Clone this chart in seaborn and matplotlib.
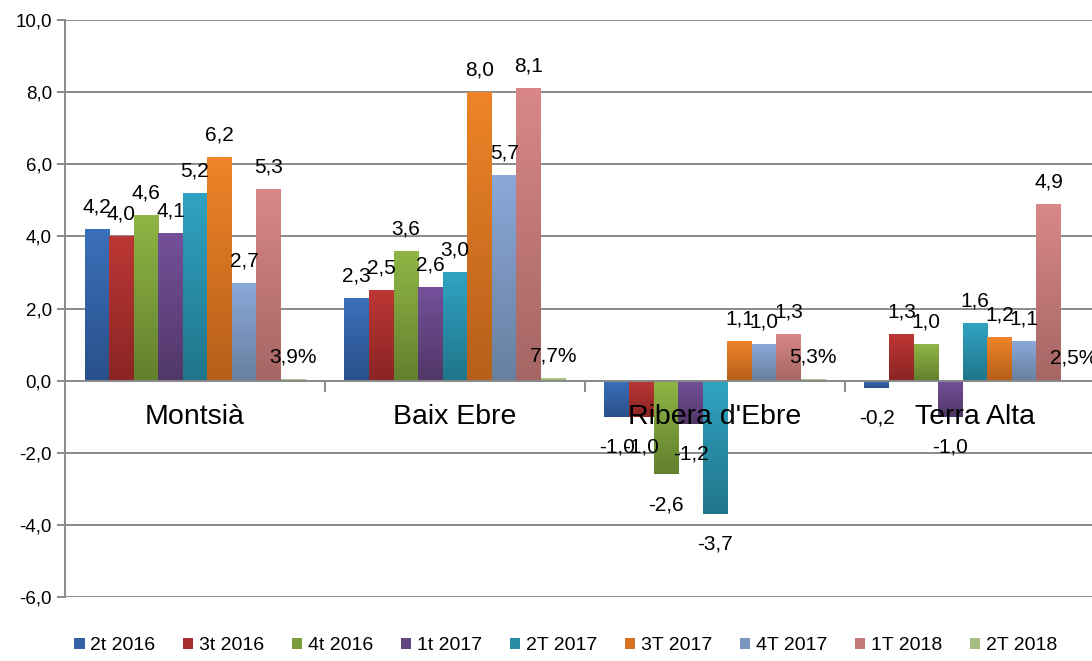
import numpy as np
import pandas as pd
import seaborn as sns
import matplotlib.pyplot as plt
from matplotlib.colors import LinearSegmentedColormap
from matplotlib.patches import Patch
from matplotlib.ticker import FuncFormatter

# data
comarques = ['Montsià', 'Baix Ebre', "Ribera d'Ebre", 'Terra Alta']
periodes = ['2t 2016', '3t 2016', '4t 2016', '1t 2017', '2T 2017',
            '3T 2017', '4T 2017', '1T 2018', '2T 2018']

v_2t2016 = [4.2, 2.3, -1.0, -0.2]
v_3t2016 = [4.0, 2.5, -1.0, 1.3]
v_4t2016 = [4.6, 3.6, -2.6, 1.0]
v_1t2017 = [4.1, 2.6, -1.2, -1.0]
v_2t2017 = [5.2, 3.0, -3.7, 1.6]
v_3t2017 = [6.2, 8.0, 1.1, 1.2]
v_4t2017 = [2.7, 5.7, 1.0, 1.1]
v_1t2018 = [5.3, 8.1, 1.3, 4.9]
v_2t2018 = [0.039, 0.077, 0.053, 0.025]  # shown as percentages

series = [v_2t2016, v_3t2016, v_4t2016, v_1t2017, v_2t2017,
          v_3t2017, v_4t2017, v_1t2018, v_2t2018]

df = pd.DataFrame([
    {'comarca': c, 'periode': p, 'valor': v}
    for p, vals in zip(periodes, series)
    for c, v in zip(comarques, vals)
])

# excel 2007 style gradient colours (top, bottom)
top_cols = ['#3B70BA', '#BC3735', '#8FB645', '#74509A', '#30A3C2',
            '#EF8428', '#8AA8DA', '#D98787', '#B7D290']
bot_cols = ['#29508A', '#8A2524', '#63802E', '#513767', '#20758A',
            '#B55F1A', '#67809F', '#A46664', '#8CA26B']
mid_cols = ['#3361A4', '#A82F2D', '#7A9C3B', '#634581', '#298DA8',
            '#D97322', '#7C96C2', '#C47877', '#A5BD80']

sns.set_style('white')
plt.rcParams['font.family'] = ['Liberation Sans', 'DejaVu Sans']
plt.rcParams['text.color'] = 'black'
plt.rcParams['xtick.labelcolor'] = 'black'
plt.rcParams['ytick.labelcolor'] = 'black'

W, H = 1092, 661
fig = plt.figure(figsize=(W / 100, H / 100), dpi=100)
ax = fig.add_axes([65 / W, 1 - 597 / H, 1027 / W, 577 / H])

sns.barplot(data=df, x='comarca', y='valor', hue='periode',
            order=comarques, hue_order=periodes, palette=mid_cols,
            saturation=1, width=0.85, legend=False, ax=ax,
            edgecolor='none', linewidth=0, errorbar=None)

grad = np.linspace(0, 1, 128).reshape(-1, 1)
for k, cont in enumerate(ax.containers):
    cmap = LinearSegmentedColormap.from_list(f'g{k}', [bot_cols[k], top_cols[k]])
    for j, bar in enumerate(cont):
        x0, w = bar.get_x(), bar.get_width()
        y0, h = bar.get_y(), bar.get_height()
        lo, hi = min(y0, y0 + h), max(y0, y0 + h)
        ax.imshow(grad, extent=[x0, x0 + w, lo, hi], origin='lower',
                  cmap=cmap, aspect='auto', zorder=3, interpolation='bilinear')
        bar.set_facecolor('none')
        v = series[k][j]
        if k == len(series) - 1:
            txt = f'{v * 100:.1f}%'.replace('.', ',')
        else:
            txt = f'{v:.1f}'.replace('.', ',')
        xc = x0 + w / 2
        if v >= 0:
            ax.annotate(txt, (xc, v), xytext=(0, 12), textcoords='offset points',
                        ha='center', va='baseline', fontsize=15, zorder=7)
        else:
            ax.annotate(txt, (xc, v), xytext=(0, -15), textcoords='offset points',
                        ha='center', va='top', fontsize=15, zorder=7)

ax.set_xlim(-0.5, -0.5 + 1027 / 260)
ax.set_ylim(-6, 10)
ax.set_yticks(range(-6, 11, 2))
ax.yaxis.set_major_formatter(FuncFormatter(lambda y, _: f'{y:.1f}'.replace('.', ',')))
ax.set_axisbelow(True)
ax.yaxis.grid(True, color='#8a8a8a', lw=1.4)
ax.xaxis.grid(False)
ax.xaxis.set_zorder(6)

for s in ['top', 'right']:
    ax.spines[s].set_visible(False)
ax.spines['left'].set_color('#8a8a8a')
ax.spines['left'].set_linewidth(1.4)
ax.spines['bottom'].set_position(('data', 0))
ax.spines['bottom'].set_color('#8a8a8a')
ax.spines['bottom'].set_linewidth(1.4)
ax.spines['bottom'].set_zorder(4)

ax.set_xticks(range(len(comarques)))
ax.set_xticklabels(comarques)
ax.set_xticks([0.5, 1.5, 2.5], minor=True)
ax.tick_params(axis='x', which='major', length=0, pad=17, labelsize=20.5)
ax.tick_params(axis='x', which='minor', length=8, width=1.4, color='#8a8a8a',
               direction='out', bottom=True)
ax.tick_params(axis='y', length=6, width=1.4, color='#8a8a8a', left=True,
               labelsize=13.5)
ax.set_xlabel('')
ax.set_ylabel('')

handles = [Patch(facecolor=c, edgecolor='none') for c in mid_cols]
fig.legend(handles, periodes, loc='center', bbox_to_anchor=(0.518, 1 - 646 / H),
           ncol=9, frameon=False, fontsize=14, handlelength=0.55,
           handleheight=0.55, handletextpad=0.3, columnspacing=1.4)

fig.savefig('out.png', dpi=100)
